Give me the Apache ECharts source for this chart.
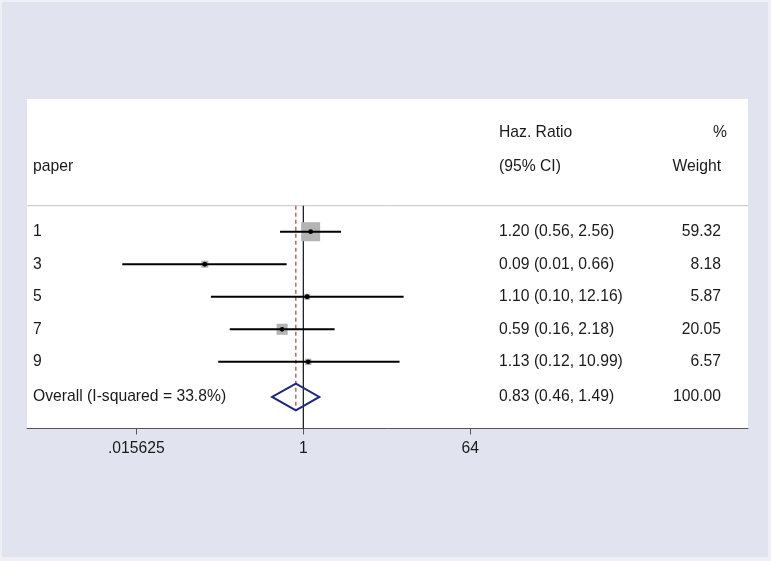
<!DOCTYPE html>
<html><head><meta charset="utf-8">
<script src="https://cdn.jsdelivr.net/npm/echarts@6/dist/echarts.min.js"></script>
<style>
html,body{margin:0;padding:0;background:#eef0f5;width:771px;height:561px;overflow:hidden;}
#bg{position:absolute;left:2px;top:2px;width:766px;height:555px;background:#e1e4ef;}
#c{position:absolute;left:0;top:0;width:771px;height:561px;}
</style>
</head><body><div id="bg"></div><div id="c"></div>
<script>
// ---- data ----
const papers = ['1', '3', '5', '7', '9'];
const hazardRatio = [1.20, 0.086, 1.10, 0.59, 1.13];
const ciLower = [0.56, 0.011, 0.10, 0.16, 0.12];
const ciUpper = [2.56, 0.66, 12.16, 2.18, 10.99];
const weights = [59.32, 8.18, 5.87, 20.05, 6.57];
const overallLabel = 'Overall (I-squared = 33.8%)';
const overallHR = [0.83];
const overallCI = [0.46, 1.49];
const overallWeight = [100.00];
const tickValues = [0.015625, 1, 64];
const tickLabels = ['.015625', '1', '64'];
const headerLeft = ['', 'paper'];
const headerMid = ['Haz. Ratio', '(95% CI)'];
const headerRight = ['%', 'Weight'];

// ---- layout ----
const FONT = '15.7px "Liberation Sans", Arial, Helvetica, sans-serif';
const TEXT_COLOR = '#1a1a1a';
const COL_LABEL = 33, COL_HR = 499, COL_W = 721, COL_PCT = 727;
const ROW_H1 = -3.05, ROW_H2 = -2.0, ROW_SEP = -0.8, ROW_OVERALL = 5.08, ROW_DASH_END = 5.48;
const SQUARE_K = 2.47, DIAMOND_HALF = 13.3;

function fmtCI(h, l, u) { return h.toFixed(2) + ' (' + l.toFixed(2) + ', ' + u.toFixed(2) + ')'; }
function txt(x, y, s, align) {
  return { type: 'text', style: { text: s, x: x, y: y, font: FONT, fill: TEXT_COLOR,
    align: align, textAlign: align, verticalAlign: 'middle', textVerticalAlign: 'middle' } };
}

const studyData = papers.map((p, i) => [Math.log2(hazardRatio[i]), i, Math.log2(ciLower[i]), Math.log2(ciUpper[i]), weights[i]]);

function renderStudy(params, api) {
  const i = params.dataIndex;
  const row = api.value(1);
  const c = api.coord([api.value(0), row]);
  const lo = api.coord([api.value(2), row]);
  const hi = api.coord([api.value(3), row]);
  const side = SQUARE_K * Math.sqrt(api.value(4));
  return { type: 'group', children: [
    { type: 'rect', shape: { x: c[0] - side / 2, y: c[1] - side / 2, width: side, height: side }, style: { fill: '#b4b4b4' } },
    { type: 'line', shape: { x1: lo[0], y1: c[1], x2: hi[0], y2: c[1] }, style: { stroke: '#000', lineWidth: 2 } },
    { type: 'circle', shape: { cx: c[0], cy: c[1], r: 2.4 }, style: { fill: '#000' } },
    txt(COL_LABEL, c[1], papers[i], 'left'),
    txt(COL_HR, c[1], fmtCI(hazardRatio[i], ciLower[i], ciUpper[i]), 'left'),
    txt(COL_W, c[1], weights[i].toFixed(2), 'right')
  ] };
}

function renderRefs(params, api) {
  const cs = params.coordSys;
  const sepY = api.coord([0, ROW_SEP])[1];
  const one = api.coord([Math.log2(1), ROW_SEP]);
  const bottom = cs.y + cs.height;
  const dTop = api.coord([Math.log2(overallHR[0]), ROW_SEP]);
  const dBot = api.coord([Math.log2(overallHR[0]), ROW_DASH_END]);
  const h1 = api.coord([0, ROW_H1])[1];
  const h2 = api.coord([0, ROW_H2])[1];
  return { type: 'group', children: [
    { type: 'line', shape: { x1: cs.x, y1: sepY, x2: cs.x + cs.width, y2: sepY }, style: { stroke: '#c4c4c4', lineWidth: 1 } },
    { type: 'line', shape: { x1: one[0], y1: sepY, x2: one[0], y2: bottom }, style: { stroke: '#111', lineWidth: 1.2 } },
    { type: 'line', shape: { x1: dTop[0], y1: dTop[1], x2: dBot[0], y2: dBot[1] }, style: { stroke: '#a8404e', lineWidth: 1.2, lineDash: [4, 3] } },
    txt(COL_LABEL, h1, headerLeft[0], 'left'),
    txt(COL_LABEL, h2, headerLeft[1], 'left'),
    txt(COL_HR, h1, headerMid[0], 'left'),
    txt(COL_HR, h2, headerMid[1], 'left'),
    txt(COL_PCT, h1, headerRight[0], 'right'),
    txt(COL_W, h2, headerRight[1], 'right')
  ] };
}

function renderOverall(params, api) {
  const c = api.coord([api.value(0), ROW_OVERALL]);
  const lo = api.coord([api.value(1), ROW_OVERALL]);
  const hi = api.coord([api.value(2), ROW_OVERALL]);
  return { type: 'group', children: [
    { type: 'polygon', shape: { points: [[lo[0], c[1]], [c[0], c[1] - DIAMOND_HALF], [hi[0], c[1]], [c[0], c[1] + DIAMOND_HALF]] },
      style: { fill: 'none', stroke: '#1c2a80', lineWidth: 2 } },
    txt(COL_LABEL, c[1], overallLabel, 'left'),
    txt(COL_HR, c[1], fmtCI(overallHR[0], overallCI[0], overallCI[1]), 'left'),
    txt(COL_W, c[1], overallWeight[0].toFixed(2), 'right')
  ] };
}

const logTicks = tickValues.map(v => Math.log2(v));
const chart = echarts.init(document.getElementById('c'), null, { renderer: 'canvas' });
chart.setOption({
  backgroundColor: 'transparent',
  animation: false,
  grid: { left: 27, right: 23, top: 99, bottom: 132.5, show: true, backgroundColor: '#ffffff', borderWidth: 0 },
  xAxis: {
    type: 'value', min: -9.93, max: 15.98, position: 'bottom',
    axisLine: { show: true, onZero: false, lineStyle: { color: '#555', width: 1 } },
    axisTick: { show: true, length: 6, customValues: logTicks, lineStyle: { color: '#555' } },
    axisLabel: { customValues: logTicks, margin: 12, color: TEXT_COLOR, fontSize: 15.7, fontFamily: '"Liberation Sans", Arial, sans-serif',
      formatter: v => { let k = 0; logTicks.forEach((t, j) => { if (Math.abs(t - v) < Math.abs(logTicks[k] - v)) k = j; }); return tickLabels[k]; } },
    splitLine: { show: false }
  },
  yAxis: { type: 'value', inverse: true, min: -4.08, max: 6.05, show: false, splitLine: { show: false } },
  series: [
    { type: 'custom', name: 'refs', data: [[0, ROW_SEP]], encode: { x: 0, y: 1 }, renderItem: renderRefs, z: 1, silent: true },
    { type: 'custom', name: 'studies', data: studyData, encode: { x: [0, 2, 3], y: 1 }, renderItem: renderStudy, z: 2 },
    { type: 'custom', name: 'overall', data: [[Math.log2(overallHR[0]), Math.log2(overallCI[0]), Math.log2(overallCI[1])]], encode: { x: [0, 1, 2] }, renderItem: renderOverall, z: 3 }
  ]
});
</script>
</body></html>
